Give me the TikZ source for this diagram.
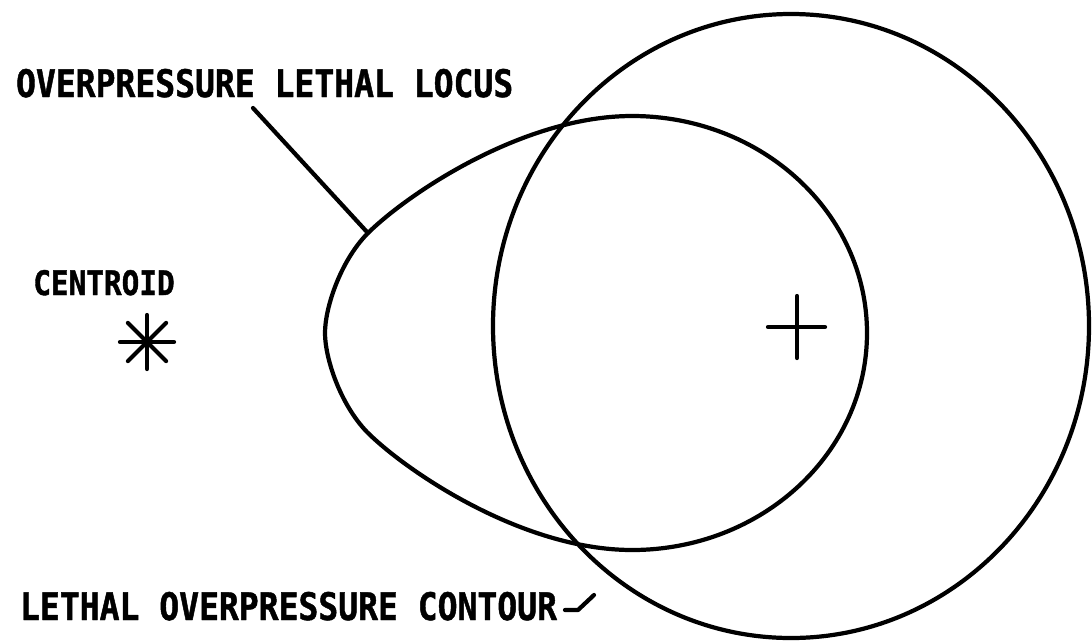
\documentclass[tikz,border=0pt]{standalone}
\usepackage{fontspec}
\newfontfamily\lettering[FakeStretch=0.87, FakeBold=1.2]{DejaVu Sans Mono}

\tikzset{
  lbl/.style={font=\lettering\bfseries\fontsize{27}{30}\selectfont, inner sep=0pt},
  smalllbl/.style={font=\lettering\bfseries\fontsize{24}{27}\selectfont, inner sep=0pt},
}

\begin{document}
\begin{tikzpicture}[x=0.025cm, y=-0.025cm, line width=3pt, line cap=round, line join=round]
\useasboundingbox (0,0) rectangle (1092,640);

% labels
\node[lbl, anchor=base west] (locus) at (14,97) {OVERPRESSURE LETHAL LOCUS};
\node[smalllbl, anchor=base] (centroid) at (104,295) {CENTROID};
\node[lbl, anchor=base west] (contour) at (18,620) {LETHAL OVERPRESSURE CONTOUR};

% lethal overpressure contour
\draw (791,326) ellipse [x radius=298, y radius=312];

% overpressure lethal locus
\draw (325,333) .. controls (325,308) and (340,262) .. (367,234)
  .. controls (406,195) and (522,116) .. (632,116)
  .. controls (762,116) and (867,213) .. (867,333)
  .. controls (867,453) and (762,550) .. (632,550)
  .. controls (522,550) and (406,471) .. (367,432)
  .. controls (340,404) and (325,358) .. cycle;

% centroid
\coordinate (star) at (147,342);
\foreach \a in {0,45,90,135}
  \draw (star) ++(\a:27) -- ++(\a+180:54);

% aim point
\coordinate (aim) at (797,327);
\draw (aim) ++(0,-31) -- ++(0,62);
\draw (aim) ++(-29,0) -- ++(57,0);

% leaders
\coordinate (locusfoot) at (253,108);
\coordinate (locustip) at (367,232);
\draw (locusfoot) -- (locustip);
\coordinate (contourtail) at (565,610);
\coordinate (contourtip) at (594,595);
\draw (contourtail) -- ++(13,0) -- (contourtip);
\end{tikzpicture}
\end{document}
